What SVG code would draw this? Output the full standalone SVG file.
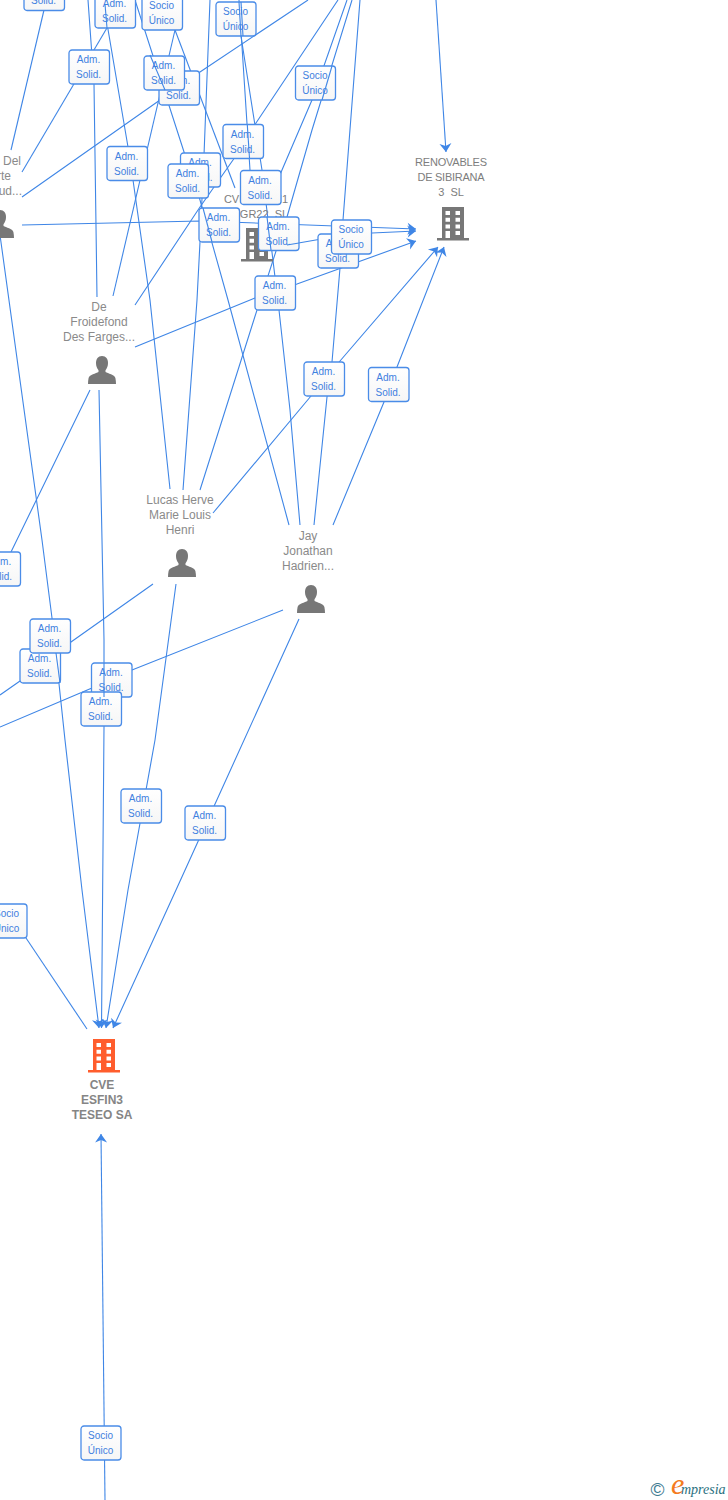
<svg xmlns="http://www.w3.org/2000/svg" width="728" height="1500" viewBox="0 0 728 1500">
<style>
text{font-family:"Liberation Sans",Arial,sans-serif}
.e{fill:none;stroke:#3f86e6;stroke-width:1.1}
.a{marker-end:url(#arr)}
.b{fill:url(#lg);stroke:#4a8ce8;stroke-width:1.3}
.l{font-size:10px;fill:#3f80e0;text-anchor:middle}
.n{font-size:12px;fill:#8a8a8a;text-anchor:middle}
.c{font-size:11px;fill:#7d7d7d;text-anchor:middle}
.m{font-size:12px;font-weight:bold;fill:#858585;text-anchor:middle}
</style>
<defs>
<linearGradient id="lg" x1="0" y1="0" x2="0" y2="1"><stop offset="0" stop-color="#fff"/><stop offset="1" stop-color="#f6f6f6"/></linearGradient>
<marker id="arr" markerUnits="userSpaceOnUse" markerWidth="14" markerHeight="14" refX="9" refY="6.5" orient="auto"><path d="M9,6.500 L0.500,0.500 L3,6.500 L0.500,12.500 Z" fill="#3f86e6"/></marker>
<symbol id="bld" viewBox="0 0 32 34" width="32" height="34" overflow="visible">
<path fill-rule="evenodd" d="M5,0H27V31H32V33.500H0V31H5ZM8.500,4v4h4.500v-4ZM18.500,4v4h4.500v-4ZM8.500,10.700v4h4.500v-4ZM18.500,10.700v4h4.500v-4ZM8.500,17.400v4h4.500v-4ZM18.500,17.400v4h4.500v-4ZM8.500,24v7h4.500v-7ZM18.500,24v4h4.500v-4Z"/>
</symbol>
<symbol id="psn" viewBox="0 0 28 28" width="28" height="28" overflow="visible">
<path fill="#777" d="M14,0C10,0 8,3 8,7C8,10 9,12.5 10.5,14.2V16C8,17.5 1.5,18.5 0.6,22C0.2,24 0,26 0,28H28C28,26 27.8,24 27.4,22C26.5,18.5 20,17.5 17.5,16V14.2C19,12.5 20,10 20,7C20,3 18,0 14,0Z"/>
</symbol>
</defs>
<rect width="728" height="1500" fill="#fff"/>
<g id="connectors">
<path class="e" d="M44,10L11,150"/>
<path class="e" d="M114,16L22,172"/>
<path class="e" d="M88,0L94,84L97,297"/>
<path class="e" d="M103,0L128,147L133,180L150,300L170,489"/>
<path class="e" d="M135,0L185,155L200,200L228,300L289,525"/>
<path class="e" d="M175,30L235,188"/>
<path class="e" d="M175,30L113,296"/>
<path class="e" d="M210,0L204,155L200,242L197,300L183,490"/>
<path class="e" d="M308,0L200,72L160,100L22,197"/>
<path class="e" d="M338,0L256,123L233,160L200,207L135,305"/>
<path class="e" d="M347,0L312,100L282,170L270,200"/>
<path class="e" d="M352,0L312,130L287,217L257,310L200,490"/>
<path class="e" d="M360,0L343,220L340,268L332,362L327,397L314,525"/>
<path class="e" d="M239,0L250,170L255,205"/>
<path class="e" d="M240,30L262,170L275,277L279,310L290,410L300,525"/>
<path class="e a" d="M22,225L200,221L416,229"/>
<path class="e a" d="M287,245L333,237L372,233L416,231"/>
<path class="e a" d="M135,347L255,298L297,284L416,241"/>
<path class="e a" d="M213,513L311,396L340,361L438,247"/>
<path class="e a" d="M333,525L384,402L397,367L444,247"/>
<path class="e a" d="M436,0L446,152"/>
<path class="e a" d="M99,390L104,640L104,727L101.5,1028"/>
<path class="e a" d="M0,235L42,540L52,618L65,740L82,890L99,1028"/>
<path class="e" d="M90,390L11,552L0,577"/>
<path class="e" d="M153,584L71,642L20,681L0,695"/>
<path class="e" d="M283,610L132,670L92,688L0,727"/>
<path class="e a" d="M176,584L155,740L128,890L106,1028"/>
<path class="e a" d="M299,619L176,890L113,1028"/>
<path class="e" d="M26,938L87,1029"/>
<path class="e a" d="M105,1500L101,1134"/>
</g>
<g id="node-person-left"><use href="#psn" x="-14" y="210"/><text class="n" style="text-anchor:end" x="21" y="165">Del</text><text class="n" style="text-anchor:end" x="11" y="180">rte</text><text class="n" style="text-anchor:end" x="22" y="195">ud...</text></g>
<g id="node-froidefond"><text class="n" x="99" y="311">De</text><text class="n" x="99" y="326">Froidefond</text><text class="n" x="99" y="341">Des Farges...</text><use href="#psn" x="88" y="356"/></g>
<g id="node-lucas"><text class="n" x="180" y="504">Lucas Herve</text><text class="n" x="180" y="519">Marie Louis</text><text class="n" x="180" y="534">Henri</text><use href="#psn" x="168" y="549"/></g>
<g id="node-jay"><text class="n" x="308" y="540">Jay</text><text class="n" x="308" y="555">Jonathan</text><text class="n" x="308" y="570">Hadrien...</text><use href="#psn" x="297" y="585"/></g>
<g id="node-renovables"><text class="c" x="451" y="166" textLength="72">RENOVABLES</text><text class="c" x="451" y="181" textLength="67">DE SIBIRANA</text><text class="c" x="451" y="196" xml:space="preserve">3  SL</text><use href="#bld" x="437" y="207" fill="#777"/></g>
<g id="node-cve-gr22"><text class="c" x="256" y="203">CVE ESFIN1</text><text class="c" x="264" y="218" xml:space="preserve">GR22  SL</text><use href="#bld" x="241" y="228" fill="#777"/></g>
<g id="node-cve-esfin3"><use href="#bld" x="88" y="1039" fill="#ff5d2d"/><text class="m" x="102" y="1089">CVE</text><text class="m" x="102" y="1104">ESFIN3</text><text class="m" x="102" y="1119">TESEO SA</text></g>
<g id="edge-labels">
<g transform="translate(24,-24)"><rect class="b" width="40.5" height="34.5" rx="3"/><text class="l" x="19.5" y="13">Adm.</text><text class="l" x="19.5" y="28">Solid.</text></g>
<g transform="translate(95,-6)"><rect class="b" width="40.5" height="34" rx="3"/><text class="l" x="19.5" y="13">Adm.</text><text class="l" x="19.5" y="28">Solid.</text></g>
<g transform="translate(142,-4)"><rect class="b" width="40.5" height="34" rx="3"/><text class="l" x="19.5" y="13">Socio</text><text class="l" x="19.5" y="28">Único</text></g>
<g transform="translate(216,2)"><rect class="b" width="40" height="34" rx="3"/><text class="l" x="19.5" y="13">Socio</text><text class="l" x="19.5" y="28">Único</text></g>
<g transform="translate(69,50)"><rect class="b" width="40.5" height="34" rx="3"/><text class="l" x="19.5" y="13">Adm.</text><text class="l" x="19.5" y="28">Solid.</text></g>
<g transform="translate(159,71)"><rect class="b" width="40.5" height="34" rx="3"/><text class="l" x="19.5" y="13">Adm.</text><text class="l" x="19.5" y="28">Solid.</text></g>
<g transform="translate(144,56)"><rect class="b" width="40.5" height="34" rx="3"/><text class="l" x="19.5" y="13">Adm.</text><text class="l" x="19.5" y="28">Solid.</text></g>
<g transform="translate(295.5,66)"><rect class="b" width="40" height="34" rx="3"/><text class="l" x="19.5" y="13">Socio</text><text class="l" x="19.5" y="28">Único</text></g>
<g transform="translate(107,146.5)"><rect class="b" width="40.5" height="34" rx="3"/><text class="l" x="19.5" y="13">Adm.</text><text class="l" x="19.5" y="28">Solid.</text></g>
<g transform="translate(223,124.5)"><rect class="b" width="40.5" height="34" rx="3"/><text class="l" x="19.5" y="13">Adm.</text><text class="l" x="19.5" y="28">Solid.</text></g>
<g transform="translate(180.5,153)"><rect class="b" width="40" height="34" rx="3"/><text class="l" x="19.5" y="13">Adm.</text><text class="l" x="19.5" y="28">Solid.</text></g>
<g transform="translate(168,164)"><rect class="b" width="40.5" height="34" rx="3"/><text class="l" x="19.5" y="13">Adm.</text><text class="l" x="19.5" y="28">Solid.</text></g>
<g transform="translate(240.5,170.5)"><rect class="b" width="40.5" height="34" rx="3"/><text class="l" x="19.5" y="13">Adm.</text><text class="l" x="19.5" y="28">Solid.</text></g>
<g transform="translate(199,208)"><rect class="b" width="40.5" height="34" rx="3"/><text class="l" x="19.5" y="13">Adm.</text><text class="l" x="19.5" y="28">Solid.</text></g>
<g transform="translate(318,234)"><rect class="b" width="40.5" height="34" rx="3"/><text class="l" x="19.5" y="13">Adm.</text><text class="l" x="19.5" y="28">Solid.</text></g>
<g transform="translate(258.5,217)"><rect class="b" width="40.5" height="33.5" rx="3"/><text class="l" x="19.5" y="13">Adm.</text><text class="l" x="19.5" y="28">Solid.</text></g>
<g transform="translate(331.5,220)"><rect class="b" width="40" height="34" rx="3"/><text class="l" x="19.5" y="13">Socio</text><text class="l" x="19.5" y="28">Único</text></g>
<g transform="translate(255,276)"><rect class="b" width="40.5" height="34" rx="3"/><text class="l" x="19.5" y="13">Adm.</text><text class="l" x="19.5" y="28">Solid.</text></g>
<g transform="translate(304,362)"><rect class="b" width="40.5" height="34" rx="3"/><text class="l" x="19.5" y="13">Adm.</text><text class="l" x="19.5" y="28">Solid.</text></g>
<g transform="translate(368.5,367.5)"><rect class="b" width="40.5" height="34" rx="3"/><text class="l" x="19.5" y="13">Adm.</text><text class="l" x="19.5" y="28">Solid.</text></g>
<g transform="translate(-20,552)"><rect class="b" width="40.5" height="34" rx="3"/><text class="l" x="19.5" y="13">Adm.</text><text class="l" x="19.5" y="28">Solid.</text></g>
<g transform="translate(20,649)"><rect class="b" width="40.5" height="34" rx="3"/><text class="l" x="19.5" y="13">Adm.</text><text class="l" x="19.5" y="28">Solid.</text></g>
<g transform="translate(30,619)"><rect class="b" width="40.5" height="34" rx="3"/><text class="l" x="19.5" y="13">Adm.</text><text class="l" x="19.5" y="28">Solid.</text></g>
<g transform="translate(91.5,663)"><rect class="b" width="40.5" height="34" rx="3"/><text class="l" x="19.5" y="13">Adm.</text><text class="l" x="19.5" y="28">Solid.</text></g>
<g transform="translate(81,692)"><rect class="b" width="40.5" height="34" rx="3"/><text class="l" x="19.5" y="13">Adm.</text><text class="l" x="19.5" y="28">Solid.</text></g>
<g transform="translate(121,789)"><rect class="b" width="40.5" height="34" rx="3"/><text class="l" x="19.5" y="13">Adm.</text><text class="l" x="19.5" y="28">Solid.</text></g>
<g transform="translate(185,806)"><rect class="b" width="40.5" height="34" rx="3"/><text class="l" x="19.5" y="13">Adm.</text><text class="l" x="19.5" y="28">Solid.</text></g>
<g transform="translate(-13,904)"><rect class="b" width="40" height="34" rx="3"/><text class="l" x="19.5" y="13">Socio</text><text class="l" x="19.5" y="28">Único</text></g>
<g transform="translate(81,1426)"><rect class="b" width="40" height="34" rx="3"/><text class="l" x="19.5" y="13">Socio</text><text class="l" x="19.5" y="28">Único</text></g>
</g>
<g id="connectors-front">
<path class="e" d="M105,4L107,28"/>
<path class="e" d="M239,2L241,36"/>
<path class="e" d="M241,2L243,36"/>
<path class="e" d="M104,663L104,697"/>
<path class="e" d="M287,245L299,243"/>
<path class="e" d="M150,55L165,90"/>
<path class="e" d="M203,208L212,242"/>
<path class="e" d="M267,217L271,250"/>
<path class="e" d="M247.300,125L249.500,158"/>
<path class="e" d="M332,66L322,100"/>
<path class="e" d="M56,653L60,683"/>
</g>
<g id="logo">
<text x="650.500" y="1496" font-size="19" fill="#3d7a90">©</text>
<text x="671" y="1494" font-size="30" font-style="italic" fill="#f47b20" style="font-family:'Liberation Serif',serif">e</text>
<text x="681" y="1494" font-size="14" font-style="italic" fill="#2a7080" style="font-family:'Liberation Serif',serif">mpresia</text>
</g>
</svg>
